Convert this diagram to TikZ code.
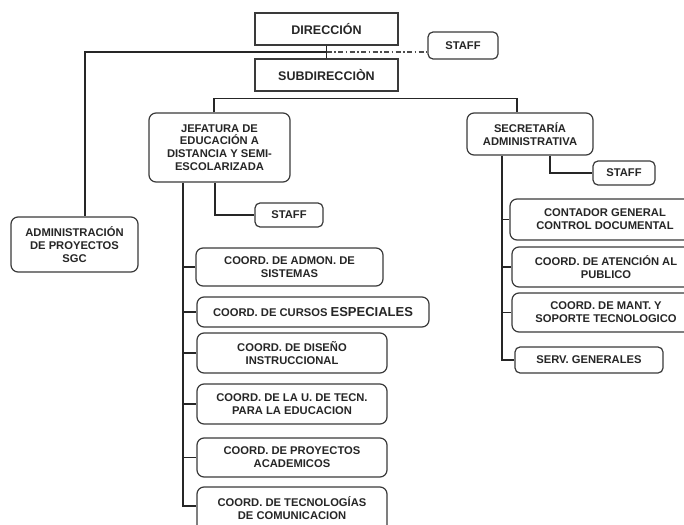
\documentclass[tikz,border=0pt]{standalone}
\usepackage{fontspec}
\setmainfont{Liberation Sans}
\usetikzlibrary{calc}
\definecolor{bord}{HTML}{3A3A3A}
\tikzset{
  base/.style={draw=bord, line width=1.2pt, fill=white, align=center, inner sep=1pt,
    font=\bfseries\fontsize{11.2}{12.8}\selectfont, text=black!85},
  sqbox/.style={base, font=\bfseries\fontsize{12.5}{14}\selectfont},
  rbox/.style={base, rounded corners=7pt},
  sbox/.style={base, rounded corners=5pt},
  conn/.style={line width=1.1pt, draw=black!85},
  dashconn/.style={line width=1.1pt, draw=black!70, dash pattern=on 5pt off 2.5pt on 1.5pt off 2.5pt},
}
\begin{document}
\begin{tikzpicture}[x=1pt,y=-1pt]
\useasboundingbox (0,0) rectangle (684,524);
\clip (0,0) rectangle (684,524);
% nodes
\node[sqbox, minimum width=143pt, minimum height=32pt] (dir) at (326.5,29) {DIRECCIÓN};
\node[sqbox, minimum width=143pt, minimum height=32pt] (sub) at (326.5,75) {SUBDIRECCIÒN};
\node[sbox, minimum width=70pt, minimum height=27pt] (staffa) at (463,45.5) {STAFF};
\node[rbox, minimum width=127pt, minimum height=55pt] (admin) at (74.5,244.5) {ADMINISTRACIÓN\\DE PROYECTOS\\SGC};
\node[rbox, minimum width=141pt, minimum height=69pt] (jef) at (219.5,147.5) {JEFATURA DE\\EDUCACIÓN A\\DISTANCIA Y SEMI-\\ESCOLARIZADA};
\node[sbox, minimum width=68pt, minimum height=24pt] (staffb) at (289,215) {STAFF};
\node[rbox, minimum width=126pt, minimum height=42pt] (sec) at (530,134) {SECRETARÍA\\ADMINISTRATIVA};
\node[sbox, minimum width=62pt, minimum height=24pt] (staffc) at (624,173) {STAFF};
\node[rbox, minimum width=190pt, minimum height=41pt] (cont) at (605,219.5) {CONTADOR GENERAL\\CONTROL DOCUMENTAL};
\node[rbox, minimum width=188pt, minimum height=40pt] (aten) at (606,267) {COORD. DE ATENCIÓN AL\\PUBLICO};
\node[rbox, minimum width=188pt, minimum height=39pt] (mant) at (606,312.5) {COORD. DE MANT. Y\\SOPORTE TECNOLOGICO};
\node[sbox, minimum width=148pt, minimum height=26pt] (serv) at (589,360) {SERV. GENERALES};
\node[rbox, minimum width=187pt, minimum height=38pt] (admon) at (289.5,267) {COORD. DE ADMON. DE\\SISTEMAS};
\node[rbox, minimum width=232pt, minimum height=30pt] (cursos) at (313,312) {COORD. DE CURSOS {\fontsize{13}{14}\selectfont ESPECIALES}};
\node[rbox, minimum width=190pt, minimum height=40pt] (diseno) at (292,353) {COORD. DE DISEÑO\\INSTRUCCIONAL};
\node[rbox, minimum width=190pt, minimum height=40pt] (tecn) at (292,404) {COORD. DE LA U. DE TECN.\\PARA LA EDUCACION};
\node[rbox, minimum width=190pt, minimum height=39pt] (proy) at (292,457.5) {COORD. DE PROYECTOS\\ACADEMICOS};
\node[rbox, minimum width=190pt, minimum height=50pt] (tecnol) at (292,512) {COORD. DE TECNOLOGÍAS\\DE COMUNICACION\\[-4.5pt]\mbox{}};
% connectors
\coordinate (j) at ($(dir.south)!0.5!(sub.north)$);
\draw[conn] (dir.south) -- (sub.north);
\draw[conn] (j) -| ([xshift=10.5pt]admin.north);
\draw[dashconn] (j) -- (j -| staffa.west);
\draw[conn] ([xshift=-5.5pt]jef.north) -- ++(0,-14) -| ([xshift=-13pt]sec.north);
% jefatura branch
\coordinate (js) at ([xshift=-36.5pt]jef.south);
\draw[conn] ([xshift=-4.5pt]jef.south) |- (staffb.west);
\draw[conn] (js) |- ([yshift=6pt]tecnol.west);
\foreach \b in {admon,cursos,diseno,tecn,proy}{
  \draw[conn] (\b.west -| js) -- (\b.west);
}
% secretaria branch
\coordinate (ss) at ([xshift=-28pt]sec.south);
\draw[conn] ([xshift=20pt]sec.south) |- (staffc.west);
\draw[conn] (ss) |- (serv.west);
\foreach \b in {cont,aten,mant}{
  \draw[conn] (\b.west -| ss) -- (\b.west);
}
\end{tikzpicture}
\end{document}
